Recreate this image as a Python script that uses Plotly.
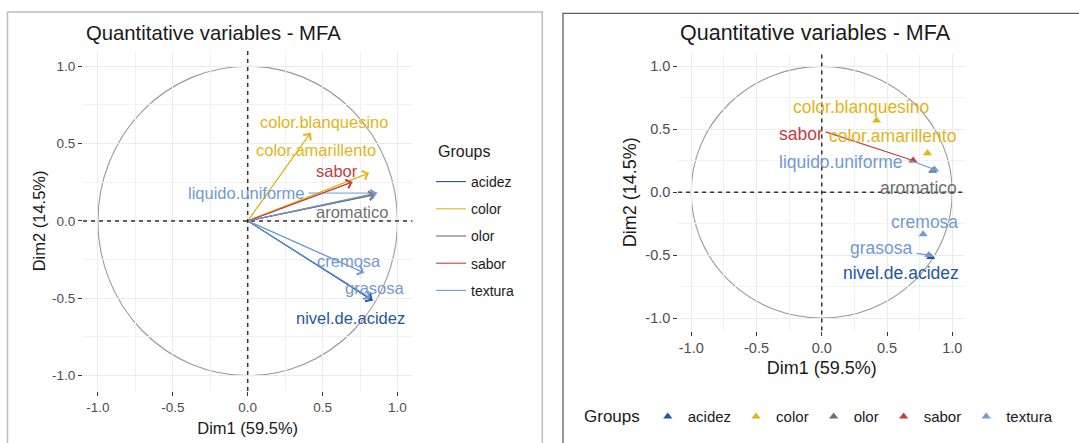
import plotly.graph_objects as go

W, H = 1079, 443

# ---------------- data ----------------
variables = ["color.blanquesino", "color.amarillento", "sabor", "liquido.uniforme",
             "aromatico", "cremosa", "grasosa", "nivel.de.acidez"]
var_groups = ["color", "color", "sabor", "textura", "olor", "textura", "textura", "acidez"]
dim1 = [0.42, 0.81, 0.70, 0.864, 0.85, 0.777, 0.82, 0.835]
dim2 = [0.57, 0.31, 0.252, 0.18, 0.17, -0.335, -0.50, -0.515]

group_names = ["acidez", "color", "olor", "sabor", "textura"]
tick_vals = [-1.0, -0.5, 0.0, 0.5, 1.0]
tick_text = ["-1.0", "-0.5", "0.0", "0.5", "1.0"]
x_title = "Dim1 (59.5%)"
y_title = "Dim2 (14.5%)"
chart_title = "Quantitative variables - MFA"
legend_title = "Groups"

# ---------------- styles / label placement (repel-like) ----------------
group_colors = {"acidez": "#1F56A3", "color": "#E3B417", "olor": "#6E6E6E",
                "sabor": "#C0403F", "textura": "#7299D3"}
lab_left_x = [0.508, 0.454, 0.597, -0.01, 0.695, 0.675, 0.847, 0.688]
lab_left_y = [0.642, 0.459, 0.325, 0.179, 0.060, -0.259, -0.435, -0.625]
lab_right_x = [0.302, 0.542, -0.156, 0.15, 0.738, 0.788, 0.46, 0.606]
lab_right_y = [0.675, 0.447, 0.463, 0.243, 0.031, -0.234, -0.446, -0.645]
seg_left = {"liquido.uniforme": (0.405, 0.18)}
seg_right = {"sabor": (0.03, 0.48), "liquido.uniforme": (0.66, 0.26), "grasosa": (0.728, -0.486)}

FONT = "Liberation Sans, Arial, sans-serif"

def px(p):
    return p / W

def py(p):
    return 1 - p / H

fig = go.Figure()

# ---------- left panel: arrows (lines as traces, heads as annotations) ----------
for g in group_names:
    xs, ys = [], []
    for v, gg, a, b in zip(variables, var_groups, dim1, dim2):
        if gg == g:
            xs += [0, a, None]
            ys += [0, b, None]
    fig.add_trace(go.Scatter(
        x=xs, y=ys, mode="lines", name=g, legend="legend", legendgroup=g + "_l",
        line=dict(color=group_colors[g], width=1.1), xaxis="x", yaxis="y",
        hoverinfo="skip"))

annotations = []
for g in group_names:
    for v, gg, a, b in zip(variables, var_groups, dim1, dim2):
        if gg != g:
            continue
        annotations.append(dict(
            x=a, y=b, ax=0, ay=0, xref="x", yref="y", axref="x", ayref="y",
            text="", showarrow=True, arrowhead=4, arrowsize=1.8, arrowwidth=1.0,
            arrowcolor=group_colors[g], standoff=0))

for v, g, a, b, lx, ly in zip(variables, var_groups, dim1, dim2, lab_left_x, lab_left_y):
    if v in seg_left:
        sx, sy = seg_left[v]
        fig.add_trace(go.Scatter(x=[sx, a], y=[sy, b], mode="lines", showlegend=False,
                                 line=dict(color=group_colors[g], width=1),
                                 xaxis="x", yaxis="y", hoverinfo="skip"))
    annotations.append(dict(x=lx, y=ly, xref="x", yref="y", text=v, showarrow=False,
                            font=dict(family=FONT, size=16.5, color=group_colors[g])))

# ---------- right panel: points ----------
for g in group_names:
    xs = [a for gg, a in zip(var_groups, dim1) if gg == g]
    ys = [b for gg, b in zip(var_groups, dim2) if gg == g]
    fig.add_trace(go.Scatter(
        x=xs, y=ys, mode="markers", name=g, legend="legend2",
        marker=dict(symbol="triangle-up", size=8, color=group_colors[g]),
        xaxis="x2", yaxis="y2"))

for v, g, a, b, lx, ly in zip(variables, var_groups, dim1, dim2, lab_right_x, lab_right_y):
    if v in seg_right:
        sx, sy = seg_right[v]
        fig.add_trace(go.Scatter(x=[sx, a], y=[sy, b], mode="lines", showlegend=False,
                                 line=dict(color=group_colors[g], width=1.2),
                                 xaxis="x2", yaxis="y2", hoverinfo="skip"))
    annotations.append(dict(x=lx, y=ly, xref="x2", yref="y2", text=v, showarrow=False,
                            font=dict(family=FONT, size=17.5, color=group_colors[g])))

# ---------- titles ----------
annotations.append(dict(x=px(84), y=py(32.5), xref="paper", yref="paper", text=chart_title,
                        showarrow=False, xanchor="left", yanchor="middle",
                        font=dict(family=FONT, size=20.3, color="#1A1A1A")))
annotations.append(dict(x=px(815.5), y=py(33.5), xref="paper", yref="paper", text=chart_title,
                        showarrow=False, xanchor="center", yanchor="middle",
                        font=dict(family=FONT, size=21.5, color="#1A1A1A")))
# title of the left (vertical) legend
annotations.append(dict(x=px(436), y=py(151), xref="paper", yref="paper", text=legend_title,
                        showarrow=False, xanchor="left", yanchor="middle",
                        font=dict(family=FONT, size=16, color="#1A1A1A")))

# ---------- shapes: circles, dashed axes, panel borders ----------
shapes = []
for xr, yr in (("x", "y"), ("x2", "y2")):
    shapes.append(dict(type="circle", xref=xr, yref=yr, x0=-1, y0=-1, x1=1, y1=1,
                       line=dict(color="#9A9A9A", width=1.1), layer="below"))
    shapes.append(dict(type="line", xref=xr, yref=yr + " domain", x0=0, x1=0, y0=0, y1=1,
                       line=dict(color="#333333", width=1.5, dash="4px,4px"), layer="above"))
    shapes.append(dict(type="line", xref=xr + " domain", yref=yr, x0=0, x1=1, y0=0, y1=0,
                       line=dict(color="#333333", width=1.5, dash="4px,4px"), layer="above"))
shapes.append(dict(type="rect", xref="paper", yref="paper", x0=px(7.5), x1=px(542.3),
                   y0=py(460), y1=py(12), line=dict(color="#BDBDBD", width=1.5)))
shapes.append(dict(type="rect", xref="paper", yref="paper", x0=px(563), x1=px(1100),
                   y0=py(460), y1=py(13.3), line=dict(color="#5E5E5E", width=1.3)))

def axis_common(size):
    return dict(
        range=[-1.1, 1.1], tickvals=tick_vals, ticktext=tick_text,
        showgrid=True, gridcolor="#EBEBEB", gridwidth=1,
        minor=dict(dtick=0.25, tick0=0, showgrid=True, gridcolor="#F1F1F1", gridwidth=1),
        zeroline=False, showline=False, ticks="outside", ticklen=4, tickwidth=1,
        tickcolor="#333333",
        tickfont=dict(family=FONT, size=size, color="#4D4D4D"),
    )

fig.update_layout(
    width=W, height=H, margin=dict(l=0, r=0, t=0, b=0),
    paper_bgcolor="white", plot_bgcolor="white",
    font=dict(family=FONT),
    xaxis=dict(domain=[px(83), px(412.4)], anchor="y", **axis_common(13.5),
               title=dict(text=x_title, font=dict(family=FONT, size=16.5, color="#1A1A1A"), standoff=8)),
    yaxis=dict(domain=[py(391), py(50.8)], anchor="x", **axis_common(13.5),
               title=dict(text=y_title, font=dict(family=FONT, size=16.5, color="#1A1A1A"), standoff=2)),
    xaxis2=dict(domain=[px(678.2), px(965.3)], anchor="y2", **axis_common(14.5),
                title=dict(text=x_title, font=dict(family=FONT, size=18, color="#1A1A1A"), standoff=6)),
    yaxis2=dict(domain=[py(330.6), py(53.8)], anchor="x2", **axis_common(14.5),
                title=dict(text=y_title, font=dict(family=FONT, size=18, color="#1A1A1A"), standoff=3)),
    legend=dict(x=px(431), y=py(166), xanchor="left", yanchor="top",
                bgcolor="rgba(0,0,0,0)", tracegroupgap=6,
                font=dict(family=FONT, size=14, color="#1A1A1A")),
    legend2=dict(x=px(582), y=py(416.7), xanchor="left", yanchor="middle", orientation="h",
                 bgcolor="rgba(0,0,0,0)",
                 title=dict(text=legend_title, side="left", font=dict(family=FONT, size=17, color="#1A1A1A")),
                 font=dict(family=FONT, size=15, color="#1A1A1A")),
    annotations=annotations,
    shapes=shapes,
)

fig.write_html("out.html", config={"displayModeBar": False},
               post_script="document.body.style.margin='0';")
